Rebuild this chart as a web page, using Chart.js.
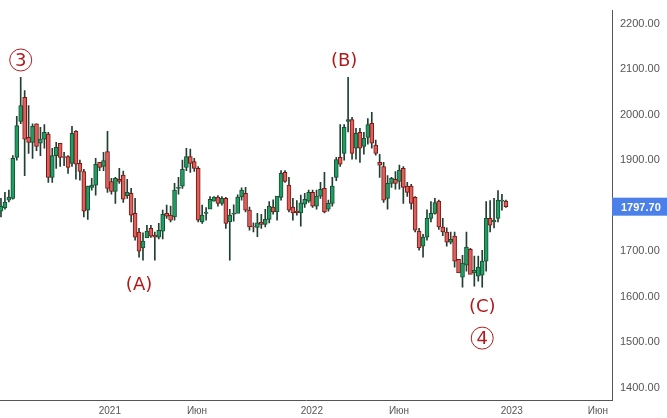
<!DOCTYPE html>
<html><head><meta charset="utf-8">
<script src="https://cdn.jsdelivr.net/npm/chart.js@4"></script>
<style>html,body{margin:0;padding:0;background:#fff}#w{width:667px;height:418px}</style>
</head><body><div id="w"><canvas id="c"></canvas></div>
<script>
const opens=[1788,1795,1812,1816,1906,1985,2038,1950,1939,1980,1937,1946,1957,1862,1910,1937,1908,1908,1893,1963,1893,1875,1790,1840,1845,1895,1886,1919,1853,1831,1858,1867,1822,1827,1783,1742,1707,1729,1750,1735,1731,1744,1783,1779,1775,1838,1843,1884,1908,1897,1882,1764,1783,1792,1810,1819,1805,1816,1764,1781,1783,1819,1827,1790,1755,1752,1764,1759,1770,1797,1786,1818,1873,1845,1797,1788,1784,1803,1810,1829,1799,1821,1838,1792,1805,1862,1906,1915,1985,1989,1926,1961,1930,1950,1981,1933,1895,1886,1816,1849,1858,1853,1882,1843,1843,1818,1744,1711,1731,1772,1783,1810,1753,1742,1720,1733,1682,1643,1669,1704,1652,1645,1647,1678,1772,1764,1772,1810,1810];
const highs=[1816,1829,1834,1910,1996,2082,2053,2020,1980,1980,1972,1978,1961,1926,1939,1937,1917,1910,1974,1965,1900,1880,1843,1860,1904,1895,1917,1963,1860,1862,1882,1876,1858,1838,1816,1750,1740,1757,1757,1742,1761,1790,1801,1799,1849,1862,1900,1926,1924,1904,1886,1801,1796,1820,1820,1822,1820,1818,1792,1802,1824,1839,1840,1797,1762,1783,1781,1792,1809,1813,1813,1877,1877,1862,1816,1811,1823,1827,1834,1834,1834,1851,1873,1812,1862,1906,1978,1978,2082,1994,1970,1970,1961,1991,2005,1944,1913,1895,1866,1862,1875,1889,1886,1851,1847,1820,1750,1737,1791,1809,1816,1812,1772,1751,1742,1742,1678,1691,1742,1706,1689,1689,1702,1809,1811,1816,1833,1825,1812];
const lows=[1775,1792,1808,1814,1900,1980,1866,1915,1904,1921,1910,1926,1851,1851,1882,1886,1888,1871,1886,1858,1856,1775,1770,1834,1823,1877,1877,1829,1825,1805,1849,1807,1816,1764,1724,1687,1680,1737,1730,1680,1727,1727,1772,1764,1768,1825,1838,1877,1873,1875,1764,1761,1768,1807,1810,1799,1801,1750,1680,1766,1812,1812,1786,1746,1742,1732,1750,1753,1762,1781,1768,1812,1851,1786,1768,1779,1755,1796,1807,1796,1792,1816,1784,1788,1799,1855,1886,1900,1962,1902,1902,1895,1913,1935,1926,1911,1862,1807,1792,1840,1836,1836,1805,1820,1792,1742,1702,1687,1724,1764,1781,1748,1734,1711,1716,1665,1656,1621,1656,1652,1623,1634,1621,1656,1742,1751,1764,1790,1796];
const closes=[1799,1808,1819,1904,1976,2020,1946,1939,1974,1930,1946,1961,1862,1910,1928,1906,1906,1884,1959,1891,1875,1788,1843,1845,1891,1884,1899,1838,1831,1860,1853,1814,1829,1779,1731,1700,1722,1744,1733,1731,1746,1781,1777,1768,1834,1840,1880,1908,1893,1882,1768,1779,1786,1814,1819,1805,1816,1761,1779,1783,1819,1834,1790,1753,1753,1762,1759,1770,1799,1786,1821,1871,1853,1790,1784,1784,1806,1814,1829,1799,1821,1836,1786,1805,1843,1901,1891,1972,1989,1915,1959,1926,1948,1978,1937,1915,1889,1812,1849,1860,1849,1878,1840,1829,1805,1746,1707,1731,1772,1783,1807,1753,1742,1720,1726,1678,1652,1674,1709,1649,1658,1665,1678,1772,1757,1768,1812,1812,1797.7];
const xTickPos=[27.6,49.7,78.8,100.9,129.5,151.3];
const xTickLabels=['2021','Июн','2022','Июн','2023','Июн'];
const yTicks=[1400,1500,1600,1700,1800,1900,2000,2100,2200];
const lastPrice=1797.7;
const notes=[{i:5,v:2120,t:'3',circle:true},{i:35,v:1627,t:'(A)'},{i:87,v:2120,t:'(B)'},{i:122,v:1578,t:'(C)'},{i:122,v:1509,t:'4',circle:true}];

const up=i=>closes[i]>=opens[i];
const wicks=opens.map((o,i)=>({x:i,y:[lows[i],highs[i]]}));
const bodies=opens.map((o,i)=>({x:i,y:[Math.min(o,closes[i]),Math.max(o,closes[i])+ (o===closes[i]?0.8:0)]}));
const annot={id:'annot',afterDatasetsDraw(ch){
  const {ctx,scales:{x,y},chartArea:a}=ch;
  ctx.save();
  ctx.fillStyle='#b01c1c';ctx.strokeStyle='#b01c1c';ctx.textAlign='center';ctx.textBaseline='middle';
  ctx.font='18px "DejaVu Sans", Arial';
  notes.forEach(n=>{const px=x.getPixelForValue(n.i),py=y.getPixelForValue(n.v);
    ctx.fillText(n.t,px,py+1);
    if(n.circle){ctx.lineWidth=1;ctx.beginPath();ctx.arc(px,py,11,0,Math.PI*2);ctx.stroke();}});
  const py=y.getPixelForValue(lastPrice);
  ctx.fillStyle='#4a80e8';ctx.fillRect(a.right,py-9,60,18);
  ctx.fillStyle='#fff';ctx.font='bold 11px Arial, "Liberation Sans"';ctx.textAlign='left';
  ctx.fillText(lastPrice.toFixed(2),a.right+9,py+1);
  ctx.restore();}};
new Chart(document.getElementById('c'),{
  type:'bar',
  data:{datasets:[
    {data:wicks,barThickness:1,backgroundColor:'#1f3f30',grouped:false,order:2},
    {data:bodies,barThickness:4,grouped:false,order:1,
     backgroundColor:opens.map((o,i)=>up(i)?'#1e9e62':'#df5f5a'),
     borderColor:opens.map((o,i)=>up(i)?'#1a4d34':'#7a1616'),borderWidth:1,borderSkipped:false}]},
  options:{responsive:true,maintainAspectRatio:false,animation:false,
    layout:{padding:0},
    plugins:{legend:{display:false},tooltip:{enabled:false}},
    scales:{
      x:{type:'linear',min:-0.25,max:154.9,offset:false,
        grid:{display:false,drawTicks:true,tickLength:4,tickColor:'#555'},border:{color:'#555'},
        afterBuildTicks(s){s.ticks=xTickPos.map(v=>({value:v}));},
        ticks:{autoSkip:false,maxRotation:0,color:'#555',font:{size:10,family:'Arial'},padding:1,
          callback:(v,k)=>xTickLabels[k]}},
      y:{position:'right',min:1373,max:2228.5,
        afterFit(s){s.width=55;},
        afterBuildTicks(s){s.ticks=yTicks.map(v=>({value:v}));},
        grid:{display:false,drawTicks:true,tickLength:4,tickColor:'#555'},border:{color:'#555'},
        ticks:{color:'#555',font:{size:11,family:'Arial'},padding:4,callback:v=>v.toFixed(2)}}}},
  plugins:[annot]});
</script></body></html>
